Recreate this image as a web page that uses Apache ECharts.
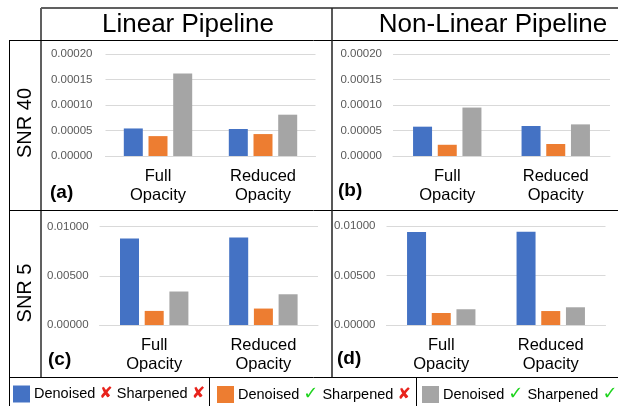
<!DOCTYPE html>
<html><head><meta charset="utf-8">
<script src="https://cdn.jsdelivr.net/npm/echarts@6/dist/echarts.min.js"></script>
<style>html,body{margin:0;padding:0;background:#fff}#c{width:618px;height:406px}</style>
</head><body><div id="c"></div>
<script>
// ---- data ----
const categories = ['Full\nOpacity', 'Reduced\nOpacity'];
const seriesNames = ['Denoised ✘ Sharpened ✘', 'Denoised ✓ Sharpened ✘', 'Denoised ✓ Sharpened ✓'];
const linear40_dnSn = [0.000054, 0.000053];
const linear40_dySn = [0.000039, 0.000043];
const linear40_dySy = [0.000162, 0.000081];
const nonlinear40_dnSn = [0.0000575, 0.0000588];
const nonlinear40_dySn = [0.000022, 0.0000235];
const nonlinear40_dySy = [0.000095, 0.000062];
const linear5_dnSn = [0.00878, 0.00888];
const linear5_dySn = [0.00143, 0.00167];
const linear5_dySy = [0.00340, 0.00312];
const nonlinear5_dnSn = [0.00939, 0.00942];
const nonlinear5_dySn = [0.00121, 0.00141];
const nonlinear5_dySy = [0.00159, 0.00179];
const snr40Ticks = {min: 0, max: 0.0002, interval: 0.00005};
const snr5Ticks = {min: 0, max: 0.01, interval: 0.005};
const columnTitles = ['Linear Pipeline', 'Non-Linear Pipeline'];
const rowTitles = ['SNR 40', 'SNR 5'];
const panelLetters = ['(a)', '(b)', '(c)', '(d)'];
const legendMarks = [['✘', '✘'], ['✓', '✘'], ['✓', '✓']];

// ---- layout / style ----
const colors = ['#4472C4', '#ED7D31', '#A5A5A5'];
const FONT = '"Liberation Sans", Arial, sans-serif';
const panels = [
  {grid: {left: 105.5, top: 54, width: 210, height: 102}, ticks: snr40Ticks, data: [linear40_dnSn, linear40_dySn, linear40_dySy], margin: 13},
  {grid: {left: 393, top: 54, width: 217, height: 102}, ticks: snr40Ticks, data: [nonlinear40_dnSn, nonlinear40_dySn, nonlinear40_dySy], margin: 11},
  {grid: {left: 99.6, top: 226.5, width: 218.4, height: 98.5}, ticks: snr5Ticks, data: [linear5_dnSn, linear5_dySn, linear5_dySy], margin: 11},
  {grid: {left: 386.5, top: 226, width: 219, height: 99}, ticks: snr5Ticks, data: [nonlinear5_dnSn, nonlinear5_dySn, nonlinear5_dySy], margin: 11}
];

const grid = [], xAxis = [], yAxis = [], series = [];
panels.forEach((p, i) => {
  grid.push(Object.assign({containLabel: false}, p.grid));
  xAxis.push({
    type: 'category', gridIndex: i, data: categories,
    axisTick: {show: false},
    axisLine: {lineStyle: {color: '#D9D9D9', width: 1}},
    axisLabel: {fontFamily: FONT, fontSize: 16.5, color: '#000', lineHeight: 19, margin: 11}
  });
  yAxis.push({
    type: 'value', gridIndex: i, min: p.ticks.min, max: p.ticks.max, interval: p.ticks.interval,
    axisLine: {show: false}, axisTick: {show: false},
    splitLine: {lineStyle: {color: '#D9D9D9', width: 1}},
    axisLabel: {fontFamily: FONT, fontSize: 11.5, color: '#595959', margin: p.margin,
      formatter: v => v.toFixed(5)}
  });
  p.data.forEach((vals, k) => {
    series.push({
      type: 'bar', name: seriesNames[k], xAxisIndex: i, yAxisIndex: i, data: vals,
      barWidth: 19, barGap: '30%', itemStyle: {color: colors[k]}
    });
  });
});

const L = (x1, y1, x2, y2, stroke, w) => ({type: 'line', silent: true,
  shape: {x1, y1, x2, y2}, style: {stroke, lineWidth: w}});
const T = (text, x, y, font, align, extra) => Object.assign({type: 'text', silent: true, x, y,
  style: {text, font, fill: '#000', align: align || 'center', verticalAlign: 'middle'}}, extra || {});

const graphic = [
  L(41, 8, 618, 8, '#606060', 2),
  L(41, 8, 41, 377, '#606060', 2),
  L(9.5, 40, 9.5, 406, '#000', 1),
  L(9, 40.5, 618, 40.5, '#000', 1),
  L(9, 210.5, 618, 210.5, '#000', 1),
  L(9, 377.5, 618, 377.5, '#000', 1),
  L(332, 8, 332, 377, '#222', 1.5),
  L(209.5, 377, 209.5, 406, '#000', 1),
  L(416.5, 377, 416.5, 406, '#000', 1),
  T(columnTitles[0], 188, 24.5, '26px ' + FONT),
  T(columnTitles[1], 493, 24.5, '26px ' + FONT),
  T(rowTitles[0], 25, 123, '20px ' + FONT, 'center', {rotation: Math.PI / 2}),
  T(rowTitles[1], 25, 293, '20px ' + FONT, 'center', {rotation: Math.PI / 2}),
  T(panelLetters[0], 50, 193, 'bold 19px ' + FONT, 'left'),
  T(panelLetters[1], 338, 191, 'bold 19px ' + FONT, 'left'),
  T(panelLetters[2], 48, 360, 'bold 19px ' + FONT, 'left'),
  T(panelLetters[3], 337, 359, 'bold 19px ' + FONT, 'left')
];

const markStyle = m => m === '✘' ? 'x' : 'v';
const legendLefts = [13, 217, 422];
const legend = seriesNames.map((name, k) => ({
  data: [name], left: legendLefts[k], top: 385.5, padding: 0, orient: 'horizontal',
  icon: 'rect', itemWidth: 17, itemHeight: 17, itemGap: 0, selectedMode: false,
  formatter: () => 'Denoised {' + markStyle(legendMarks[k][0]) + '|' + legendMarks[k][0] + '} Sharpened {' + markStyle(legendMarks[k][1]) + '|' + legendMarks[k][1] + '}',
  textStyle: {fontFamily: FONT, fontSize: 14.5, color: '#000', lineHeight: 17, padding: [0, 0, 0, -1],
    rich: {
      x: {fontFamily: '"DejaVu Sans"', fontSize: 16, color: '#E8231C', fontWeight: 'bold'},
      v: {fontFamily: '"DejaVu Sans"', fontSize: 18, color: '#1FD41F', fontWeight: 'bold'}
    }}
}));

const chart = echarts.init(document.getElementById('c'), null, {renderer: 'canvas'});
chart.setOption({animation: false, grid, xAxis, yAxis, series, graphic, legend});
</script>
</body></html>
